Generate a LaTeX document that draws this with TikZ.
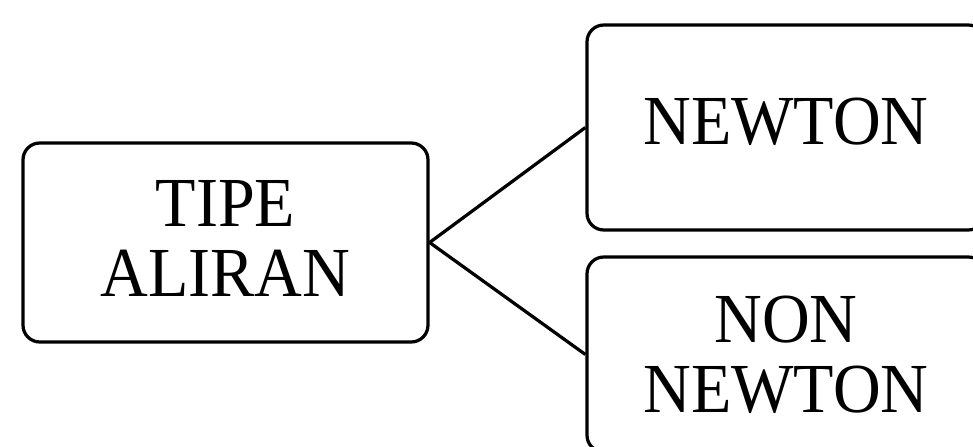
\documentclass[tikz,border=0pt]{standalone}
\usepackage{fontspec}
\setmainfont{Liberation Serif}[FakeStretch=0.94]
\usetikzlibrary{positioning}

\begin{document}
\begin{tikzpicture}[x=0.025cm, y=-0.025cm,
    kotak/.style = {draw, line width=2.3pt, rounded corners=0.42cm, align=center,
                    font=\fontsize{50}{49.8}\selectfont, inner sep=0pt},
    garis/.style = {line width=2.3pt}]

                % Frame:
                \useasboundingbox (0,0) rectangle (973,447);
                \clip (0,0) rectangle (973,447);

                % Boxes:
                \node[kotak, minimum width=405*0.025cm, minimum height=199*0.025cm, text depth=0.2cm] (aliran) at (225.5,242.5) {TIPE\\ALIRAN};
                \node[kotak, minimum width=398*0.025cm, minimum height=205*0.025cm, text depth=0.32cm] (newton) at (786,127.5) {NEWTON};
                \node[kotak, minimum width=398*0.025cm, minimum height=195*0.025cm] (nonnewton) at (786,354.5) {NON\\NEWTON};

                % Lines:
                \draw[garis] (aliran.east) -- (newton.west);
                \draw[garis] (aliran.east) -- (nonnewton.west);
            \end{tikzpicture}
\end{document}
